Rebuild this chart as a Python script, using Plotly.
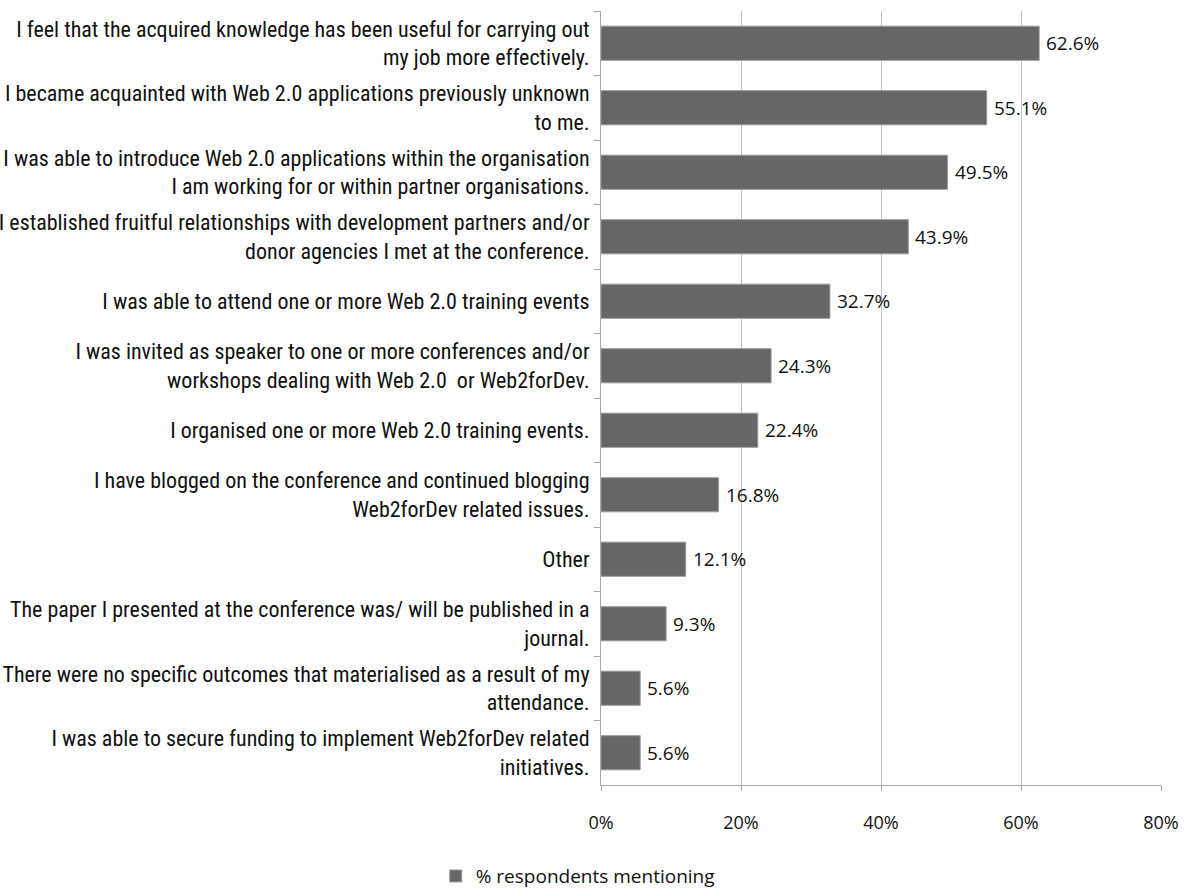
import plotly.graph_objects as go

# Survey outcomes, listed top to bottom as they appear on the chart
outcomes = [
    "I feel that the acquired knowledge has been useful for carrying out<br>my job more effectively.",
    "I became acquainted with Web 2.0 applications previously unknown<br>to me.",
    "I was able to introduce Web 2.0 applications within the organisation<br>I am working for or within partner organisations.",
    "I established fruitful relationships with development partners and/or<br>donor agencies I met at the conference.",
    "I was able to attend one or more Web 2.0 training events",
    "I was invited as speaker to one or more conferences and/or<br>workshops dealing with Web 2.0  or Web2forDev.",
    "I organised one or more Web 2.0 training events.",
    "I have blogged on the conference and continued blogging<br>Web2forDev related issues.",
    "Other",
    "The paper I presented at the conference was/ will be published in a<br>journal.",
    "There were no specific outcomes that materialised as a result of my<br>attendance.",
    "I was able to secure funding to implement Web2forDev related<br>initiatives.",
]
pct_mentioning = [62.6, 55.1, 49.5, 43.9, 32.7, 24.3, 22.4, 16.8, 12.1, 9.3, 5.6, 5.6]
x_ticks = [0, 20, 40, 60, 80]
series_name = "% respondents mentioning"

LABEL_FONT = "Liberation Sans Narrow, Roboto Condensed, Arial Narrow, Liberation Sans, sans-serif"
NUM_FONT = "Open Sans, Lato, sans-serif"

fig = go.Figure(
    go.Bar(
        x=pct_mentioning,
        y=outcomes,
        orientation="h",
        name=series_name,
        marker=dict(color="#666666", line=dict(color="#9a9a9a", width=1)),
        showlegend=True,
    )
)

# Value labels just to the right of each bar end
for v, cat in zip(pct_mentioning, outcomes):
    fig.add_annotation(
        x=v,
        y=cat,
        text=f"{v:.1f}%",
        showarrow=False,
        xanchor="left",
        yanchor="middle",
        xshift=5,
        font=dict(family=NUM_FONT, size=19, color="#111111"),
    )

fig.update_layout(
    width=1184,
    height=894,
    margin=dict(l=601, r=23, t=11, b=109, autoexpand=False),
    paper_bgcolor="white",
    plot_bgcolor="white",
    bargap=0.47,
    font=dict(family=NUM_FONT, color="#111111"),
    legend=dict(
        orientation="h",
        xref="container",
        yref="container",
        x=0.368,
        y=0.02,
        xanchor="left",
        yanchor="middle",
        font=dict(family=NUM_FONT, size=19, color="#111111"),
        itemwidth=30,
    ),
)

fig.update_xaxes(
    range=[0, 80],
    tickvals=x_ticks,
    ticktext=[f"{t}%" for t in x_ticks],
    showgrid=True,
    gridcolor="#c4c4c4",
    gridwidth=1,
    showline=True,
    linecolor="#a8a8a8",
    linewidth=1,
    ticks="outside",
    ticklen=5,
    tickcolor="#a8a8a8",
    ticklabelstandoff=16,
    tickfont=dict(family=NUM_FONT, size=18, color="#111111"),
    zeroline=False,
    automargin=False,
)

fig.update_yaxes(
    categoryorder="array",
    categoryarray=outcomes,
    autorange="reversed",
    showline=True,
    linecolor="#a8a8a8",
    linewidth=1,
    ticks="outside",
    tickson="boundaries",
    ticklen=6,
    tickcolor="#a8a8a8",
    ticklabelstandoff=6,
    tickfont=dict(family=LABEL_FONT, size=22, color="#111111"),
    showgrid=False,
    automargin=False,
)

fig.write_html("out.html")
